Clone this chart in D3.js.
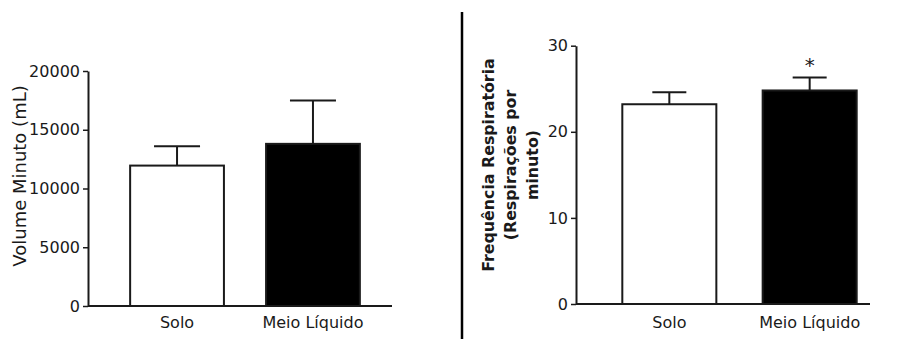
<!DOCTYPE html>
<html>
<head>
<meta charset="utf-8">
<script src="https://cdn.jsdelivr.net/npm/d3@7"></script>
<style>
  body { margin: 0; background: #fff; }
  svg { display: block; font-family: "DejaVu Sans", sans-serif; }
</style>
</head>
<body>
<div id="chart"></div>
<script>
// data
const groups = ['Solo', 'Meio Líquido'];
const barFills = ['#ffffff', '#000000'];

const volumeMean = [11950, 13800];
const volumeErr = [1650, 3700];
const volumeTicks = [0, 5000, 10000, 15000, 20000];

const freqMean = [23.2, 24.8];
const freqErr = [1.4, 1.5];
const freqTicks = [0, 10, 20, 30];
const freqSignif = ['', '*'];

const svg = d3.select('#chart').append('svg')
    .attr('width', 899)
    .attr('height', 339);

const ink = '#1a1a1a';

function drawPanel(opts) {
    const g = svg.append('g');

    const y = d3.scaleLinear()
        .domain(opts.yDomain)
        .range([opts.y0, opts.y1]);

    const x = d3.scaleBand()
        .domain(groups)
        .range([opts.x0, opts.x1])
        .padding(opts.pad);

    // y axis
    const yAxis = g.append('g')
        .attr('transform', 'translate(' + opts.x0 + ',0)')
        .call(d3.axisLeft(y).tickValues(opts.ticks).tickFormat(d3.format('d'))
            .tickSize(5).tickPadding(3).tickSizeOuter(0));
    yAxis.attr('font-size', null).attr('font-family', null);
    yAxis.select('.domain').attr('stroke', ink).attr('stroke-width', 2);
    yAxis.selectAll('.tick line').attr('stroke', ink).attr('stroke-width', 1.5);
    yAxis.selectAll('.tick text')
        .attr('fill', ink)
        .style('font-size', '16px');

    // baseline
    g.append('line')
        .attr('x1', opts.x0).attr('x2', opts.xEnd)
        .attr('y1', y(0)).attr('y2', y(0))
        .attr('stroke', ink).attr('stroke-width', 2);

    // error bars
    const errG = g.selectAll('.err')
        .data(groups)
        .enter().append('g');
    errG.append('line')
        .attr('x1', d => x(d) + x.bandwidth() / 2)
        .attr('x2', d => x(d) + x.bandwidth() / 2)
        .attr('y1', (d, i) => y(opts.mean[i]))
        .attr('y2', (d, i) => y(opts.mean[i] + opts.err[i]))
        .attr('stroke', ink).attr('stroke-width', 2);
    errG.append('line')
        .attr('x1', d => x(d) + x.bandwidth() / 2 - opts.cap)
        .attr('x2', d => x(d) + x.bandwidth() / 2 + opts.cap)
        .attr('y1', (d, i) => y(opts.mean[i] + opts.err[i]))
        .attr('y2', (d, i) => y(opts.mean[i] + opts.err[i]))
        .attr('stroke', ink).attr('stroke-width', 2);

    // bars
    g.selectAll('.bar')
        .data(groups)
        .enter().append('rect')
        .attr('x', d => x(d))
        .attr('y', (d, i) => y(opts.mean[i]))
        .attr('width', x.bandwidth())
        .attr('height', (d, i) => y(0) - y(opts.mean[i]))
        .attr('fill', (d, i) => barFills[i])
        .attr('stroke', ink)
        .attr('stroke-width', 2);

    // category labels
    g.selectAll('.cat')
        .data(groups)
        .enter().append('text')
        .attr('x', d => x(d) + x.bandwidth() / 2)
        .attr('y', 328)
        .attr('text-anchor', 'middle')
        .attr('fill', ink)
        .style('font-size', '16px')
        .text(d => d);

    return { x: x, y: y, g: g };
}

// left panel
const left = drawPanel({
    yDomain: [0, 20000], y0: 306, y1: 71,
    x0: 88, x1: 402, xEnd: 392, pad: 0.31,
    ticks: volumeTicks, mean: volumeMean, err: volumeErr, cap: 23
});

svg.append('text')
    .attr('transform', 'translate(26,176) rotate(-90)')
    .attr('text-anchor', 'middle')
    .attr('fill', ink)
    .style('font-size', '18px')
    .text('Volume Minuto (mL)');

// right panel
const right = drawPanel({
    yDomain: [0, 30], y0: 304, y1: 45.7,
    x0: 576, x1: 903, xEnd: 870, pad: 0.33,
    ticks: freqTicks, mean: freqMean, err: freqErr, cap: 17
});

right.g.selectAll('.sig')
    .data(groups)
    .enter().append('text')
    .attr('x', d => right.x(d) + right.x.bandwidth() / 2)
    .attr('y', (d, i) => right.y(freqMean[i] + freqErr[i]) - 6)
    .attr('text-anchor', 'middle')
    .attr('fill', ink)
    .style('font-size', '20px')
    .text((d, i) => freqSignif[i]);

const yLab = svg.append('text')
    .attr('transform', 'translate(510,165) rotate(-90)')
    .attr('text-anchor', 'middle')
    .attr('fill', ink)
    .style('font-size', '15.8px')
    .style('font-weight', 'bold');
['Frequência Respiratória', '(Respirações por', 'minuto)'].forEach(function(t, i) {
    yLab.append('tspan')
        .attr('x', 0)
        .attr('dy', i === 0 ? '-16' : '22')
        .text(t);
});

// divider between panels
svg.append('line')
    .attr('x1', 462).attr('x2', 462)
    .attr('y1', 12).attr('y2', 339)
    .attr('stroke', '#000').attr('stroke-width', 2.5);
</script>
</body>
</html>
